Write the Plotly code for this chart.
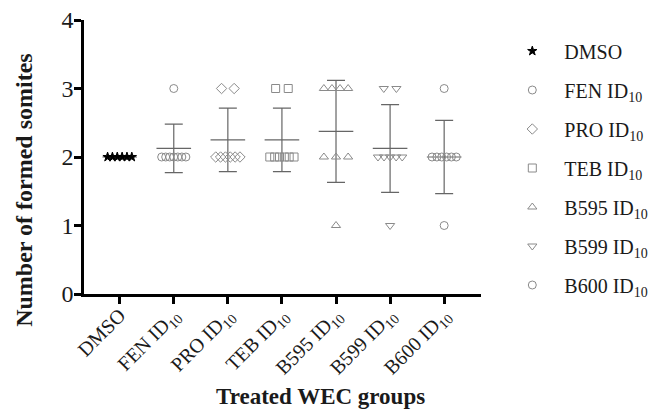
import numpy as np
import plotly.graph_objects as go

# ---- data ----
group_labels = ["DMSO", "FEN ID<sub>10</sub>", "PRO ID<sub>10</sub>", "TEB ID<sub>10</sub>",
                "B595 ID<sub>10</sub>", "B599 ID<sub>10</sub>", "B600 ID<sub>10</sub>"]
dmso = [2, 2, 2, 2, 2, 2]
fen = [3, 2, 2, 2, 2, 2, 2, 2]
pro = [3, 3, 2, 2, 2, 2, 2, 2]
teb = [3, 3, 2, 2, 2, 2, 2, 2]
b595 = [3, 3, 3, 3, 2, 2, 2, 1]
b599 = [3, 3, 2, 2, 2, 2, 2, 1]
b600 = [3, 2, 2, 2, 2, 2, 2, 1]
y_ticks = [0, 1, 2, 3, 4]

series = [dmso, fen, pro, teb, b595, b599, b600]
symbols = ["star", "circle-open", "diamond-open", "square-open",
           "triangle-up-open", "triangle-down-open", "circle-open"]
colors = ["#000000", "#8a8a8a", "#8a8a8a", "#8a8a8a", "#8a8a8a", "#8a8a8a", "#8a8a8a"]
sizes = [7, 8, 8, 8, 8, 8, 8]

FONT = "Liberation Serif, Times New Roman, serif"
TXT = "#1a1a1a"
PX_PER_UNIT = 55.8

# figure geometry (page has an 8px body offset)
W, H = 657, 402
ML, MR, MT, MB = 76, 16, 12, 116
PAPER_W = W - ML - MR
PLOT_W = 410

fig = go.Figure()

def swarm_offsets(vals):
    vals = np.asarray(vals, dtype=float)
    xs = np.zeros(len(vals))
    for v in np.unique(vals):
        idx = np.where(vals == v)[0]
        n = len(idx)
        if n > 1:
            sp = min(13.0, 25.0 / (n - 1)) / PX_PER_UNIT
            xs[idx] = (np.arange(n) - (n - 1) / 2) * sp
    return xs

for i, (vals, lab) in enumerate(zip(series, group_labels)):
    vals_arr = np.asarray(vals, dtype=float)
    m = vals_arr.mean()
    sd = vals_arr.std(ddof=1)
    fig.add_trace(go.Scatter(
        x=[i - 0.32, i + 0.32], y=[m, m], mode="lines",
        line=dict(color="#666666", width=1.2), showlegend=False, hoverinfo="skip"))
    fig.add_trace(go.Scatter(
        x=[i], y=[m], mode="markers",
        marker=dict(size=1, color="rgba(0,0,0,0)"),
        error_y=dict(type="data", array=[sd], visible=True, color="#666666",
                     thickness=1.2, width=9),
        showlegend=False, hoverinfo="skip"))
    fig.add_trace(go.Scatter(
        x=i + swarm_offsets(vals), y=vals, mode="markers", name=lab,
        legendgroup=f"g{i}",
        marker=dict(symbol=symbols[i], size=sizes[i], color=colors[i],
                    line=dict(color=colors[i], width=1))))

fig.update_layout(
    width=W, height=H,
    margin=dict(l=ML, r=MR, t=MT, b=MB),
    plot_bgcolor="white", paper_bgcolor="white",
    font=dict(family=FONT, color=TXT),
    legend=dict(x=(506 - ML) / PAPER_W, xanchor="left", y=0.958, yanchor="top",
                font=dict(size=20, family=FONT, color=TXT),
                itemwidth=54, tracegroupgap=10, traceorder="grouped",
                bgcolor="rgba(0,0,0,0)"),
    xaxis=dict(domain=[0, PLOT_W / PAPER_W],
               range=[-0.66, 6.68], tickmode="array", automargin=False,
               tickvals=list(range(len(group_labels))), ticktext=group_labels,
               tickangle=-45, tickfont=dict(size=20, family=FONT, color=TXT),
               ticklabelstandoff=-8,
               ticks="outside", ticklen=7, tickwidth=2.5, tickcolor="black",
               showline=True, linecolor="black", linewidth=2.5,
               showgrid=False, zeroline=False),
    yaxis=dict(range=[0, 4], tickmode="array", tickvals=y_ticks, automargin=False,
               tickfont=dict(size=24, family=FONT, color=TXT),
               ticklabelstandoff=-4, ticklabeloverflow="allow",
               ticks="outside", ticklen=7, tickwidth=2.5, tickcolor="black",
               showline=True, linecolor="black", linewidth=2.5,
               showgrid=False, zeroline=False),
    annotations=[
        dict(text="<b>Treated WEC groups</b>", xref="paper", yref="paper",
             x=(320 - ML) / PAPER_W, y=-0.375, xanchor="center", yanchor="middle",
             showarrow=False, font=dict(size=23, family=FONT, color=TXT)),
        dict(text="<b>Number of formed somites</b>", xref="paper", yref="paper",
             x=(14 - ML) / PAPER_W, y=0.38, xanchor="center", yanchor="middle",
             showarrow=False, textangle=-90,
             font=dict(size=24, family=FONT, color=TXT)),
    ],
)

fig.write_html("out.html")
